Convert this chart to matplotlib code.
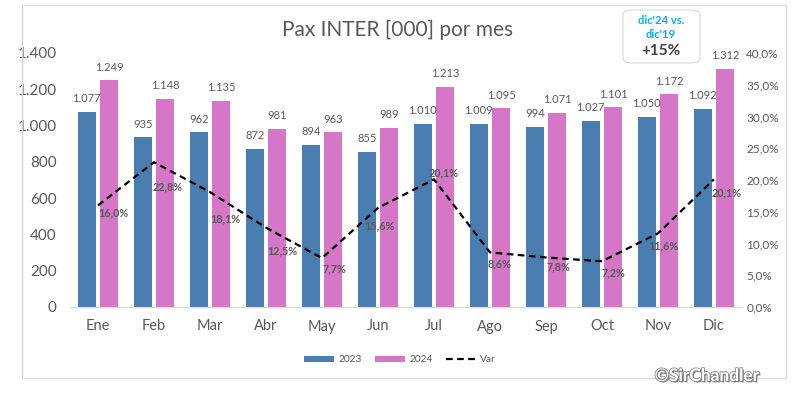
import matplotlib
matplotlib.use("Agg")
from matplotlib import pyplot as plt
from matplotlib import patheffects as pe
from matplotlib.patches import FancyBboxPatch, Rectangle
import numpy as np

plt.rcParams['font.family'] = ['Lato', 'DejaVu Sans']

months = ["Ene", "Feb", "Mar", "Abr", "May", "Jun", "Jul", "Ago", "Sep", "Oct", "Nov", "Dic"]
pax2023 = [1077, 935, 962, 872, 894, 855, 1010, 1009, 994, 1027, 1050, 1092]
pax2024 = [1249, 1148, 1135, 981, 963, 989, 1213, 1095, 1071, 1101, 1172, 1312]
var = [16.0, 22.8, 18.1, 12.5, 7.7, 15.6, 20.1, 8.6, 7.8, 7.2, 11.6, 20.1]

# label offsets for the Var labels (points), they were moved by hand in the original
var_offsets = [(11, -5), (10, -18), (11, -19), (12, -17), (9, -8), (1, -13),
               (7, 5), (7, -8), (9, -7), (8, -8), (4, -9), (9, -10)]

blue = "#4A7EB1"
pink = "#D676C6"
grey = "#595959"


def fmt_thousands(v):
    return f"{v:,}".replace(",", ".")


fig = plt.figure(figsize=(8.0, 3.93), dpi=100)

# outer frame of the chart
fig.patches.append(Rectangle((22 / 800, 1 - 378 / 393), 764 / 800, 373 / 393,
                             transform=fig.transFigure, fill=False,
                             edgecolor="#D9D9D9", linewidth=1))

ax = fig.add_axes([70 / 800, 86 / 393, 672 / 800, 254 / 393])
x = np.arange(len(months))
w = 0.32
bars1 = ax.bar(x - 0.2, pax2023, w, color=blue, label="2023")
bars2 = ax.bar(x + 0.2, pax2024, w, color=pink, label="2024")

for b, v in zip(bars1, pax2023):
    ax.annotate(fmt_thousands(v), (b.get_x() + b.get_width() / 2, v), xytext=(0, 5.5),
                textcoords="offset points", ha="center", va="bottom", fontsize=8, color=grey)
for b, v in zip(bars2, pax2024):
    ax.annotate(fmt_thousands(v), (b.get_x() + b.get_width() / 2, v), xytext=(0, 5.5),
                textcoords="offset points", ha="center", va="bottom", fontsize=8, color=grey)

ax.set_xlim(-0.5, len(months) - 0.5)
ax.set_ylim(0, 1400)
ax.set_yticks(range(0, 1401, 200))
ax.set_yticklabels([fmt_thousands(t) for t in range(0, 1401, 200)], fontsize=11, color=grey)
ax.set_xticks(x)
ax.set_xticklabels(months, fontsize=10.5, color=grey)
ax.tick_params(axis="y", length=0, pad=9.5)
ax.tick_params(axis="x", length=0, pad=9)
for s in ["top", "right", "left"]:
    ax.spines[s].set_visible(False)
ax.spines["bottom"].set_color("#D9D9D9")

ax2 = ax.twinx()
line, = ax2.plot(x, var, color="black", linewidth=1.6, linestyle=(0, (3, 2)), label="Var")
ax2.set_ylim(0, 40)
ax2.set_yticks(range(0, 41, 5))
ax2.set_yticklabels([f"{t:.1f}%".replace(".", ",") for t in range(0, 41, 5)], fontsize=8.5, color=grey)
ax2.tick_params(axis="y", length=0, pad=3)
for s in ["top", "right", "left", "bottom"]:
    ax2.spines[s].set_visible(False)

for xi, v, off in zip(x, var, var_offsets):
    ax2.annotate(f"{v:.1f}%".replace(".", ","), (xi, v), xytext=off, textcoords="offset points",
                 ha="center", va="center", fontsize=7.8, fontweight="bold", color=grey)

fig.text(398 / 800, 1 - 30 / 393, "Pax INTER [000] por mes", ha="center", va="center",
         fontsize=15, color=grey)

handles = [bars1, bars2, line]
fig.legend(handles, ["2023", "2024", "Var"], loc="center", bbox_to_anchor=(400 / 800, 1 - 360 / 393),
           ncol=3, frameon=False, fontsize=7.3, handlelength=3.0, handleheight=0.6,
           handletextpad=0.4, columnspacing=1.3, labelcolor=grey)

# highlight box top right
fig.patches.append(FancyBboxPatch((623 / 800, 1 - 63 / 393), 77 / 800, 53 / 393,
                                  boxstyle="round,pad=0,rounding_size=0.012",
                                  transform=fig.transFigure, facecolor="white",
                                  edgecolor="#D9D9D9", linewidth=0.8))
fig.text(661 / 800, 1 - 20 / 393, "dic'24 vs.", ha="center", va="center", fontsize=8,
         fontweight="bold", color="#00B0F0")
fig.text(661 / 800, 1 - 34 / 393, "dic'19", ha="center", va="center", fontsize=8,
         fontweight="bold", color="#00B0F0")
fig.text(661 / 800, 1 - 51 / 393, "+15%", ha="center", va="center", fontsize=11,
         fontweight="bold", color="#404040")

fig.text(707 / 800, 1 - 376 / 393, "©SirChandler", ha="center", va="center", fontsize=12.5,
         fontweight="bold", color="white",
         path_effects=[pe.withSimplePatchShadow(offset=(1, -1), shadow_rgbFace="#555555", alpha=0.8),
                       pe.withStroke(linewidth=1.2, foreground="#888888")])

fig.savefig("out.png", dpi=100)
